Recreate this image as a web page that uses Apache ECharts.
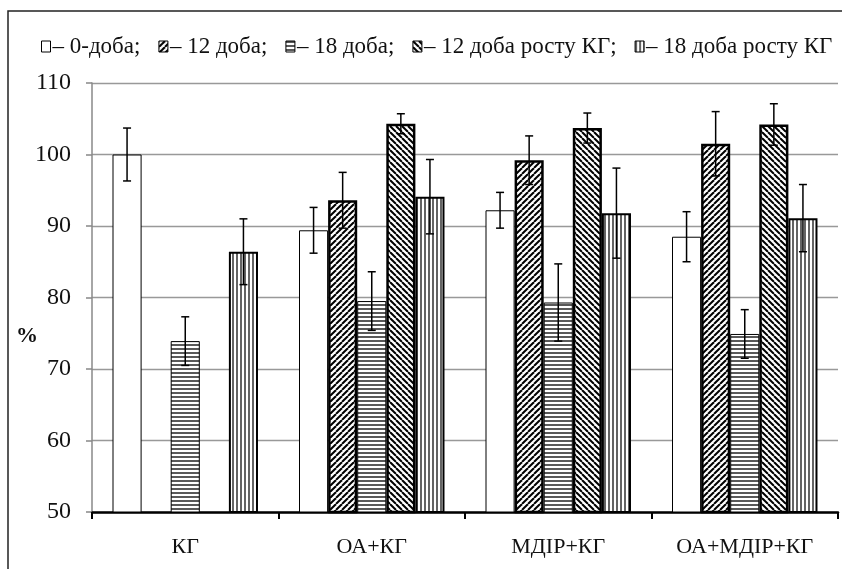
<!DOCTYPE html>
<html>
<head>
<meta charset="utf-8">
<script src="https://cdn.jsdelivr.net/npm/echarts@6/dist/echarts.min.js"></script>
<style>
  html, body { margin: 0; padding: 0; background: #fff; }
  #chart { width: 842px; height: 569px; }
</style>
</head>
<body>
<div id="chart"></div>
<script>
// ---- data ----
const categories = ['КГ', 'ОА+КГ', 'МДІР+КГ', 'ОА+МДІР+КГ'];
const seriesNames = ['– 0-доба;', '– 12 доба;', '– 18 доба;', '– 12 доба росту КГ;', '– 18 доба росту КГ'];
const day0     = [100, 89.4, 92.2, 88.5];
const day0Err  = [3.7, 3.2, 2.5, 3.5];
const day12    = [null, 93.6, 99.2, 101.5];
const day12Err = [null, 3.9, 3.4, 4.5];
const day18    = [73.9, 79.5, 79.3, 74.9];
const day18Err = [3.4, 4.1, 5.4, 3.4];
const day12g    = [null, 104.3, 103.7, 104.2];
const day12gErr = [null, 1.4, 2.1, 2.9];
const day18g    = [86.4, 94.1, 91.8, 91.1];
const day18gErr = [4.6, 5.2, 6.3, 4.7];
const yTicks = [50, 60, 70, 80, 90, 100, 110];

const values = [day0, day12, day18, day12g, day18g];
const errors = [day0Err, day12Err, day18Err, day12gErr, day18gErr];

// ---- hatch patterns ----
function pattern(kind) {
  const c = document.createElement('canvas');
  const s = kind === 'h' || kind === 'v' ? 4 : 6;
  c.width = s; c.height = s;
  const g = c.getContext('2d');
  g.fillStyle = '#fff'; g.fillRect(0, 0, s, s);
  g.strokeStyle = '#000';
  if (kind === 'fwd' || kind === 'back') {
    g.lineWidth = 2.0;
    for (let k = -1; k <= 1; k++) {
      g.beginPath();
      if (kind === 'fwd') { g.moveTo(k * s, s); g.lineTo(k * s + s, 0); }
      else { g.moveTo(k * s, 0); g.lineTo(k * s + s, s); }
      g.stroke();
    }
  } else if (kind === 'h') {
    g.strokeStyle = '#222';
    g.lineWidth = 1.5;
    g.beginPath(); g.moveTo(0, 1); g.lineTo(s, 1); g.stroke();
  } else if (kind === 'v') {
    g.strokeStyle = '#222';
    g.lineWidth = 1.4;
    g.beginPath(); g.moveTo(1, 0); g.lineTo(1, s); g.stroke();
  }
  return { image: c, repeat: 'repeat' };
}

const fills = ['#ffffff', pattern('fwd'), pattern('h'), pattern('back'), pattern('v')];
const borderW = [1, 2.5, 1, 2.5, 2];

const FONT = '"Liberation Serif", "Times New Roman", serif';
const CAT_GAP = 0.22;

const barSeries = values.map((vals, i) => ({
  name: seriesNames[i],
  type: 'bar',
  data: vals,
  barGap: '0%',
  barCategoryGap: (CAT_GAP * 100) + '%',
  itemStyle: { color: fills[i], borderColor: '#000', borderWidth: borderW[i] },
  emphasis: { disabled: true },
  animation: false
}));

const errData = [];
values.forEach((vals, si) => {
  vals.forEach((v, ci) => {
    if (v != null && errors[si][ci] != null) errData.push([ci, si, v, errors[si][ci]]);
  });
});

const errSeries = {
  type: 'custom',
  name: 'err',
  data: errData,
  z: 10,
  animation: false,
  silent: true,
  renderItem: function (params, api) {
    const ci = api.value(0), si = api.value(1), v = api.value(2), e = api.value(3);
    const band = api.size([1, 0])[0];
    const total = band * (1 - CAT_GAP);
    const bw = total / values.length;
    const center = api.coord([ci, v]);
    const x = center[0] - total / 2 + bw * (si + 0.5);
    const top = api.coord([ci, v + e])[1];
    const bot = api.coord([ci, v - e])[1];
    const cap = 4;
    const st = { stroke: '#000', lineWidth: 1.5 };
    return {
      type: 'group',
      children: [
        { type: 'line', shape: { x1: x, y1: top, x2: x, y2: bot }, style: st },
        { type: 'line', shape: { x1: x - cap, y1: top, x2: x + cap, y2: top }, style: st },
        { type: 'line', shape: { x1: x - cap, y1: bot, x2: x + cap, y2: bot }, style: st }
      ]
    };
  }
};

const chart = echarts.init(document.getElementById('chart'), null, { renderer: 'canvas' });
chart.setOption({
  backgroundColor: '#fff',
  animation: false,
  grid: { left: 92, right: 4, top: 83, bottom: 57, containLabel: false },
  legend: {
    data: seriesNames,
    left: 36,
    top: 30,
    width: 900,
    itemWidth: 9,
    itemHeight: 11,
    itemGap: 18,
    icon: 'rect',
    selectedMode: false,
    textStyle: { fontFamily: FONT, fontSize: 23, color: '#111', padding: [0, 0, 0, -3] },
    itemStyle: { borderColor: '#000', borderWidth: 1 }
  },
  xAxis: {
    type: 'category',
    data: categories,
    axisLine: { lineStyle: { color: '#000', width: 2.5 } },
    axisTick: { show: true, length: 7, lineStyle: { color: '#000', width: 2 } },
    axisLabel: { fontFamily: FONT, fontSize: 22, color: '#111', margin: 24 },
    splitLine: { show: false }
  },
  yAxis: {
    type: 'value',
    min: yTicks[0],
    max: yTicks[yTicks.length - 1],
    interval: yTicks[1] - yTicks[0],
    axisLine: { show: true, lineStyle: { color: '#888', width: 1.5 } },
    axisTick: { show: true, length: 6, lineStyle: { color: '#888', width: 1.5 } },
    axisLabel: { fontFamily: FONT, fontSize: 24, color: '#111', margin: 21 },
    splitLine: { show: true, lineStyle: { color: '#999', width: 1.3 } }
  },
  graphic: [
    { type: 'rect', shape: { x: 8, y: 11, width: 900, height: 700 }, style: { fill: null, stroke: '#222', lineWidth: 1.5 }, silent: true, z: -1 },
    { type: 'text', left: 16, top: 325, style: { text: '%', fontFamily: FONT, fontSize: 22, fontWeight: 'bold', fill: '#111' } }
  ],
  series: barSeries.concat([errSeries])
});
</script>
</body>
</html>
